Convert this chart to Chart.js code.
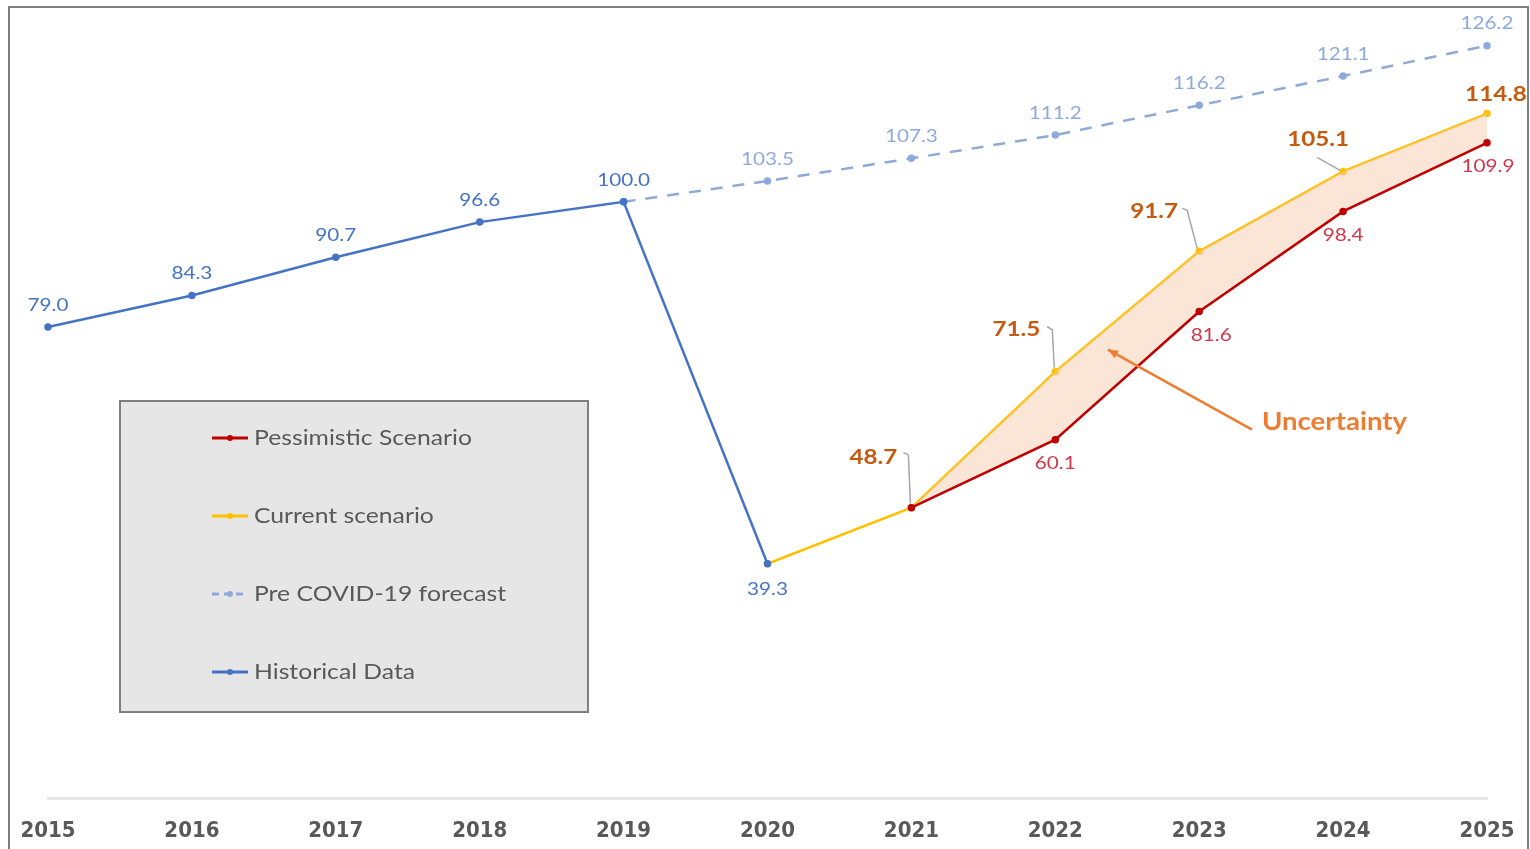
<!DOCTYPE html>
<html>
<head>
<meta charset="utf-8">
<script src="https://cdn.jsdelivr.net/npm/chart.js@4.4.0/dist/chart.umd.min.js"></script>
<style>
  html, body { margin: 0; padding: 0; background: #fff; }
  canvas { display: block; }
</style>
</head>
<body>
<canvas id="chart" width="1530" height="849"></canvas>
<script>
// data
var years = ['2015', '2016', '2017', '2018', '2019', '2020', '2021', '2022', '2023', '2024', '2025'];
var historical  = [79.0, 84.3, 90.7, 96.6, 100.0, 39.3, null, null, null, null, null];
var preCovid    = [null, null, null, null, 100.0, 103.5, 107.3, 111.2, 116.2, 121.1, 126.2];
var current     = [null, null, null, null, null, 39.3, 48.7, 71.5, 91.7, 105.1, 114.8];
var pessimistic = [null, null, null, null, null, null, 48.7, 60.1, 81.6, 98.4, 109.9];

var seriesNames = ['Pessimistic Scenario', 'Current scenario', 'Pre COVID-19 forecast', 'Historical Data'];

var LABEL_FONT = 'Lato, "Open Sans", sans-serif';
var STRETCH = 1.15; // the source text is a bit wider than Lato

// where each value label sits relative to its point
var labelStyles = [
  { // pessimistic
    font: '18px ' + LABEL_FONT, color: '#d2364a', skip: [6],
    off: { 7: [0, 23], 8: [12, 24], 9: [0, 24], 10: [1, 23] }
  },
  { // current
    font: 'bold 21px ' + LABEL_FONT, color: '#c55a11', skip: [5],
    off: { 6: [-38, -50], 7: [-39, -43], 8: [-45, -40], 9: [-25, -32], 10: [9, -19] },
    leaders: {
      6: [[-8, -55], [-3, -53], [-1, -4]],
      7: [[-8, -45], [-3, -42], [-1, -4]],
      8: [[-17, -43], [-12, -41], [-2, -3]],
      9: [[-26, -14], [-3, -1]]
    }
  },
  { // pre covid
    font: '18px ' + LABEL_FONT, color: '#8eaadb', skip: [4],
    off: { def: [0, -22] }
  },
  { // historical
    font: '18px ' + LABEL_FONT, color: '#4472c4', skip: [],
    off: { def: [0, -22], 5: [0, 25] }
  }
];

function wideText(ctx, txt, x, y, align) {
  ctx.save();
  ctx.translate(x, y);
  ctx.scale(STRETCH, 1);
  ctx.textAlign = align;
  ctx.textBaseline = 'middle';
  ctx.fillText(txt, 0, 0);
  ctx.restore();
}

var decor = {
  id: 'decor',
  afterDatasetsDraw: function(chart) {
    var ctx = chart.ctx;
    var xs = chart.scales.x, ys = chart.scales.y;
    ctx.save();

    // value labels and leader lines
    chart.data.datasets.forEach(function(ds, di) {
      var st = labelStyles[di];
      var meta = chart.getDatasetMeta(di);
      ds.data.forEach(function(v, i) {
        if (v === null || st.skip.indexOf(i) >= 0) return;
        var p = meta.data[i];
        var o = st.off[i] || st.off.def;
        if (st.leaders && st.leaders[i]) {
          ctx.strokeStyle = '#a6a6a6';
          ctx.lineWidth = 1.5;
          ctx.setLineDash([]);
          ctx.beginPath();
          st.leaders[i].forEach(function(q, k) {
            if (k === 0) ctx.moveTo(p.x + q[0], p.y + q[1]);
            else ctx.lineTo(p.x + q[0], p.y + q[1]);
          });
          ctx.stroke();
        }
        ctx.font = st.font;
        ctx.fillStyle = st.color;
        wideText(ctx, v.toFixed(1), p.x + o[0], p.y + o[1], 'center');
      });
    });

    // "Uncertainty" arrow
    var tipX = xs.getPixelForValue(7.366), tipY = ys.getPixelForValue(75.2);
    var tailX = xs.getPixelForValue(8.367), tailY = ys.getPixelForValue(61.8);
    ctx.strokeStyle = '#ed7d31';
    ctx.fillStyle = '#ed7d31';
    ctx.lineWidth = 2.5;
    ctx.beginPath();
    ctx.moveTo(tailX, tailY);
    ctx.lineTo(tipX, tipY);
    ctx.stroke();
    var ang = Math.atan2(tipY - tailY, tipX - tailX);
    ctx.beginPath();
    ctx.moveTo(tipX, tipY);
    ctx.lineTo(tipX - 11 * Math.cos(ang - 0.4), tipY - 11 * Math.sin(ang - 0.4));
    ctx.lineTo(tipX - 11 * Math.cos(ang + 0.4), tipY - 11 * Math.sin(ang + 0.4));
    ctx.closePath();
    ctx.fill();
    ctx.font = 'bold 24px ' + LABEL_FONT;
    wideText(ctx, 'Uncertainty', xs.getPixelForValue(8.436), ys.getPixelForValue(63.1), 'left');

    // legend box
    ctx.fillStyle = '#e7e6e6';
    ctx.fillRect(120, 401, 468, 311);
    ctx.strokeStyle = '#7f7f7f';
    ctx.lineWidth = 2;
    ctx.strokeRect(120, 401, 468, 311);
    chart.data.datasets.forEach(function(ds, di) {
      var y = 438 + di * 78;
      ctx.strokeStyle = ds.borderColor;
      ctx.lineWidth = 3;
      ctx.setLineDash(ds.borderDash ? [7, 5] : []);
      ctx.beginPath();
      ctx.moveTo(212, y);
      ctx.lineTo(248, y);
      ctx.stroke();
      ctx.setLineDash([]);
      ctx.fillStyle = ds.borderColor;
      ctx.beginPath();
      ctx.arc(230, y, 3, 0, Math.PI * 2);
      ctx.fill();
      ctx.fillStyle = '#595959';
      ctx.font = '21.5px ' + LABEL_FONT;
      wideText(ctx, ds.label, 254, y, 'left');
    });

    // outer frame
    ctx.strokeStyle = '#7f7f7f';
    ctx.lineWidth = 2;
    ctx.strokeRect(9, 7, 1519, 900);
    ctx.restore();
  }
};

var ctx = document.getElementById('chart').getContext('2d');
var chart = new Chart(ctx, {
  type: 'line',
  data: {
    labels: years,
    datasets: [
      {
        label: seriesNames[0],
        data: pessimistic,
        order: 1,
        borderColor: '#c00000',
        backgroundColor: 'rgba(248, 203, 173, 0.5)',
        pointBackgroundColor: '#c00000',
        fill: { target: 1 },
        borderWidth: 2.5,
        pointRadius: 2.5
      },
      {
        label: seriesNames[1],
        data: current,
        order: 2,
        borderColor: '#ffc000',
        pointBackgroundColor: '#ffc000',
        fill: false,
        borderWidth: 2.5,
        pointRadius: 2.5
      },
      {
        label: seriesNames[2],
        data: preCovid,
        order: 3,
        borderColor: '#8eaadb',
        pointBackgroundColor: '#8eaadb',
        borderDash: [12, 10],
        fill: false,
        borderWidth: 2.5,
        pointRadius: 2.5
      },
      {
        label: seriesNames[3],
        data: historical,
        order: 0,
        borderColor: '#4472c4',
        pointBackgroundColor: '#4472c4',
        fill: false,
        borderWidth: 2.5,
        pointRadius: 2.5
      }
    ]
  },
  options: {
    responsive: false,
    animation: false,
    layout: { padding: { left: 48, right: 43, top: 23, bottom: 0 } },
    plugins: {
      legend: { display: false },
      tooltip: { enabled: false }
    },
    elements: { line: { tension: 0 }, point: { borderWidth: 0 } },
    scales: {
      x: {
        offset: false,
        grid: { display: false, drawTicks: false },
        border: { display: true, color: '#e6e6e6', width: 3 },
        ticks: {
          padding: 20,
          color: '#595959',
          font: { family: '"DejaVu Sans Condensed", "Liberation Sans Narrow", sans-serif', size: 22, weight: 'bold' },
          maxRotation: 0
        },
        afterFit: function(scale) {
          scale.height = 51;
          scale.paddingLeft = 28;
          scale.paddingRight = 28;
        }
      },
      y: {
        display: false,
        min: 0,
        max: 130
      }
    }
  },
  plugins: [decor]
});
</script>
</body>
</html>
